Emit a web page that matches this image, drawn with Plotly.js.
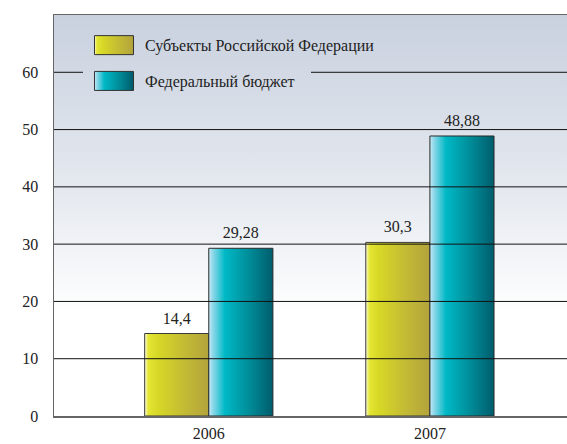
<!DOCTYPE html>
<html><head><meta charset="utf-8">
<script src="https://cdn.plot.ly/plotly-3.0.1.min.js"></script>
<style>html,body{margin:0;padding:0;background:#fff}#chart{width:567px;height:444px}</style>
</head><body><div id="chart"></div>
<script>
const years = ['2006', '2007'];
const regions = [14.4, 30.3];
const federal = [29.28, 48.88];
const seriesNames = ['Субъекты Российской Федерации', 'Федеральный бюджет'];
const yTicks = [0, 10, 20, 30, 40, 50, 60];
const gridTicks = [10, 20, 30, 40, 50];
const legendGridTick = 60;

const fmt = v => String(v).replace('.', ',');
const FONT = 'Liberation Serif';

function makeTraces() {
  return [
    {type: 'bar', name: seriesNames[0], x: years, y: regions, text: regions.map(fmt),
     textposition: 'outside', cliponaxis: false, legendgroup: 'a',
     textfont: {family: FONT, size: 16, color: '#222'},
     marker: {color: '#c8c52c', line: {color: '#3a3a3a', width: 1}}},
    {type: 'bar', name: seriesNames[1], x: years, y: federal, text: federal.map(fmt),
     textposition: 'outside', cliponaxis: false, legendgroup: 'b',
     textfont: {family: FONT, size: 16, color: '#222'},
     marker: {color: '#00a0ad', line: {color: '#2a2a2a', width: 1}}}
  ];
}

const gridLine = (v, x0, x1) => ({type: 'line', xref: 'paper', x0: x0, x1: x1, yref: 'y', y0: v, y1: v,
                                  line: {color: '#111', width: 1}, layer: 'above'});

function makeLayout() {
  return {
    width: 567, height: 444,
    margin: {l: 54, r: 0, t: 15, b: 28},
    paper_bgcolor: '#ffffff', plot_bgcolor: '#e2e7ef',
    barmode: 'group', bargap: 0.42, bargroupgap: 0,
    font: {family: FONT, size: 16, color: '#222'},
    showlegend: true,
    xaxis: {type: 'category', range: [-0.70, 1.62], showline: true, mirror: true,
            linecolor: '#666', linewidth: 1.5, ticks: '', showgrid: false,
            ticklabelstandoff: 2, tickfont: {family: FONT, size: 16, color: '#222'}},
    yaxis: {range: [0, 70], tickvals: yTicks, showgrid: false, zeroline: false,
            showline: true, linecolor: '#666', linewidth: 1.5, ticks: '',
            ticklabelstandoff: 11, tickfont: {family: FONT, size: 16, color: '#222'}},
    shapes: gridTicks.map(v => gridLine(v, 0, 1))
            .concat([gridLine(legendGridTick, 0, 0.0565), gridLine(legendGridTick, 0.501, 1)]),
    legend: {x: 0.0565, y: 0.967, xanchor: 'left', yanchor: 'top', bgcolor: 'rgba(0,0,0,0)',
             borderwidth: 0, font: {family: FONT, size: 16, color: '#222'},
             traceorder: 'grouped', tracegroupgap: 12, itemwidth: 52}
  };
}

function decorate(gd) {
  const svg = gd.querySelector('svg.main-svg');
  const ns = 'http://www.w3.org/2000/svg';
  let defs = svg.querySelector('defs');
  if (!defs) { defs = document.createElementNS(ns, 'defs'); svg.insertBefore(defs, svg.firstChild); }
  function grad(id, stops, vertical) {
    const old = document.getElementById(id);
    if (old) old.remove();
    const g = document.createElementNS(ns, 'linearGradient');
    g.setAttribute('id', id);
    g.setAttribute('x1', '0'); g.setAttribute('y1', '0');
    g.setAttribute('x2', vertical ? '0' : '1'); g.setAttribute('y2', vertical ? '1' : '0');
    stops.forEach(([o, c]) => {
      const s = document.createElementNS(ns, 'stop');
      s.setAttribute('offset', o); s.setAttribute('stop-color', c);
      g.appendChild(s);
    });
    defs.appendChild(g);
  }
  grad('gY', [[0, '#fbfbd8'], [0.06, '#e4e632'], [0.2, '#d8d826'], [0.6, '#c4bc34'], [1, '#b3a33c']]);
  grad('gT', [[0, '#c8ecf6'], [0.06, '#8fd8ea'], [0.25, '#00b9c6'], [0.6, '#00909c'], [1, '#005c6c']]);
  grad('gBg', [[0, '#c9d1df'], [0.45, '#e6eaf0'], [0.75, '#ffffff'], [1, '#ffffff']], true);
  const ids = ['gY', 'gT'];
  gd.querySelectorAll('.barlayer .trace').forEach((tr, i) => {
    tr.querySelectorAll('path').forEach(p => { p.style.fill = 'url(#' + ids[i] + ')'; });
    tr.querySelectorAll('text').forEach(t => {
      const tf = t.getAttribute('transform') || '';
      t.setAttribute('transform', tf + ' translate(0,-4)');
    });
  });
  gd.querySelectorAll('.legend .traces').forEach((tr, i) => {
    tr.querySelectorAll('.legendpoints path').forEach(p => {
      p.setAttribute('d', 'M19.5,9.5H-19.5V-9.5H19.5Z');
      p.style.fill = 'url(#' + ids[i] + ')';
      p.style.stroke = '#333';
      p.style.strokeWidth = '1px';
    });
  });
  gd.querySelectorAll('rect.bg').forEach(r => {
    if (!r.closest('.legend')) r.style.fill = 'url(#gBg)';
  });
}

function draw() {
  const el = document.getElementById('chart');
  Plotly.purge(el);
  return Plotly.newPlot(el, makeTraces(), makeLayout(), {staticPlot: true}).then(decorate);
}

draw();
const wait = ms => new Promise(r => setTimeout(r, ms));
const fontLoad = (document.fonts && document.fonts.load)
  ? document.fonts.load('16px "Liberation Serif"', 'Субъекты Федеральный 0123456789,').catch(() => null)
  : Promise.resolve();
fontLoad.then(() => wait(30)).then(draw).then(() => wait(400)).then(draw);
</script>
</body></html>
